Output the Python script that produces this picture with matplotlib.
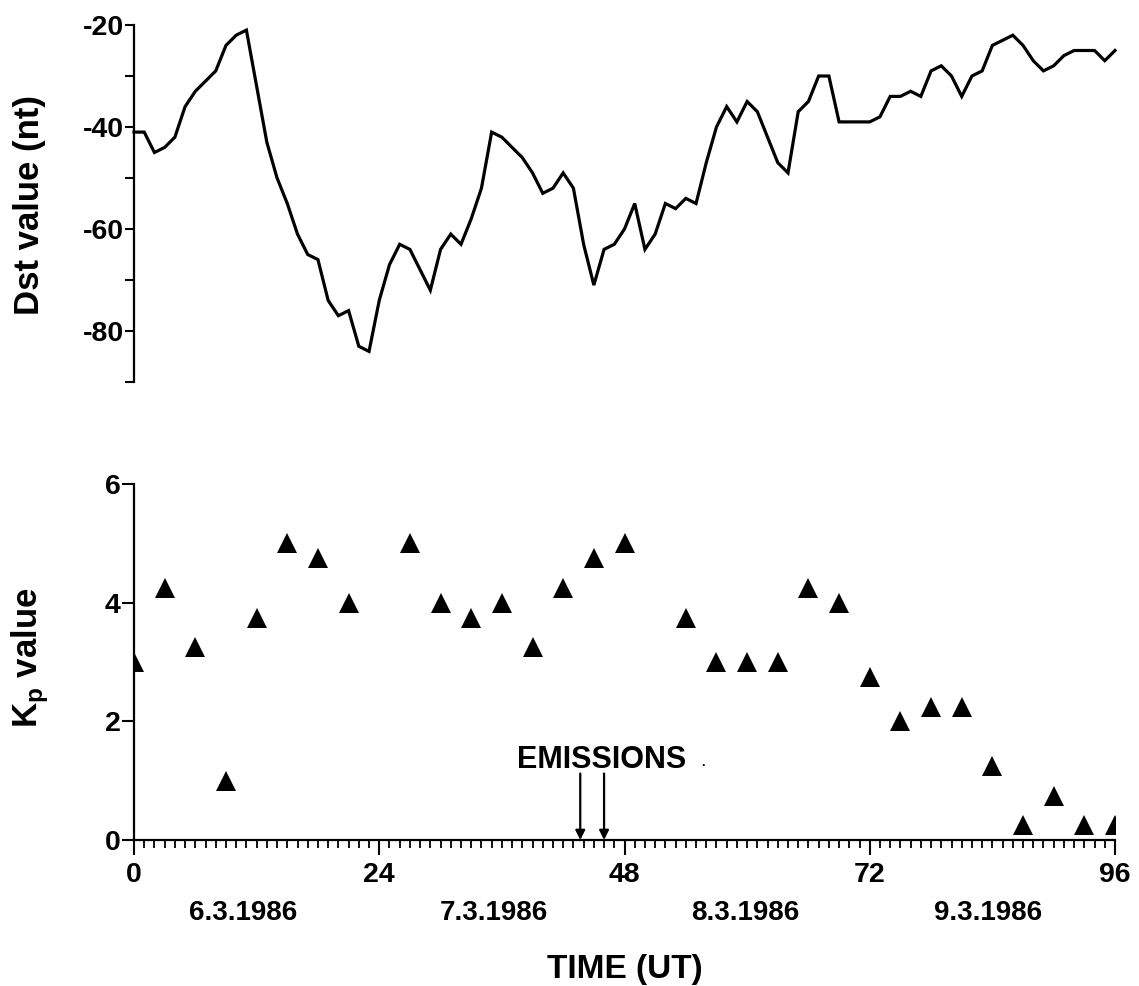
import matplotlib
matplotlib.use("Agg")
import matplotlib.pyplot as plt
from matplotlib.ticker import FixedLocator, MultipleLocator
from matplotlib.font_manager import FontProperties

plt.rcParams['font.family'] = ['Liberation Sans', 'DejaVu Sans']
plt.rcParams['font.weight'] = 'bold'
plt.rcParams['axes.unicode_minus'] = False

# ---------------- data ----------------
hours = list(range(0, 97))
dst = [-41, -41, -45, -44, -42, -36, -33, -31, -29, -24,
       -22, -21, -32, -43, -50, -55, -61, -65, -66, -74,
       -77, -76, -83, -84, -74, -67, -63, -64, -68, -72,
       -64, -61, -63, -58, -52, -41, -42, -44, -46, -49,
       -53, -52, -49, -52, -63, -71, -64, -63, -60, -55,
       -64, -61, -55, -56, -54, -55, -47, -40, -36, -39,
       -35, -37, -42, -47, -49, -37, -35, -30, -30, -39,
       -39, -39, -39, -38, -34, -34, -33, -34, -29, -28,
       -30, -34, -30, -29, -24, -23, -22, -24, -27, -29,
       -28, -26, -25, -25, -25, -27, -25]

kp_hours = [0, 3, 6, 9, 12, 15, 18, 21, 27, 30, 33, 36, 39, 42, 45, 48,
            54, 57, 60, 63, 66, 69, 72, 75, 78, 81, 84, 87, 90, 93, 96]
kp = [3, 4.25, 3.25, 1, 3.75, 5, 4.75, 4, 5, 4, 3.75, 4, 3.25, 4.25, 4.75, 5,
      3.75, 3, 3, 3, 4.25, 4, 2.75, 2, 2.25, 2.25, 1.25, 0.25, 0.75, 0.25, 0.25]

emission_hours = [43.67, 46.0]
x_ticks = [0, 24, 48, 72, 96]
dst_ticks = [-20, -40, -60, -80]
dst_minor = [-30, -50, -70, -90]
kp_ticks = [0, 2, 4, 6]
date_labels = ['6.3.1986', '7.3.1986', '8.3.1986', '9.3.1986']
date_pos = [10.7, 35.2, 59.8, 83.6]

# ---------------- figure ----------------
W, H = 1139, 986
fig = plt.figure(figsize=(W / 100, H / 100), dpi=100)
ax1 = fig.add_axes([134 / W, 1 - 382 / H, 981 / W, 357 / H])
ax2 = fig.add_axes([134 / W, 1 - 840 / H, 981 / W, 356 / H])

tick_fp = FontProperties(family='Liberation Sans', weight='bold', size=20.5)

# top panel: Dst
ax1.plot(hours, dst, color='black', lw=2.3, solid_joinstyle='miter', clip_on=False)
ax1.set_xlim(0, 96)
ax1.set_ylim(-90, -20)
for s in ['top', 'right', 'bottom']:
    ax1.spines[s].set_visible(False)
ax1.spines['left'].set_linewidth(1.6)
ax1.set_xticks([])
ax1.yaxis.set_major_locator(FixedLocator(dst_ticks))
ax1.yaxis.set_minor_locator(FixedLocator(dst_minor))
ax1.tick_params(axis='y', which='both', direction='out', length=6.5, width=1.5, pad=1)
for lab in ax1.get_yticklabels():
    lab.set_fontproperties(tick_fp)

# bottom panel: Kp
ax2.plot(kp_hours, kp, linestyle='none', marker='^', ms=14, color='black',
         markeredgewidth=0, clip_on=True)
ax2.set_xlim(0, 96)
ax2.set_ylim(0, 6)
for s in ['top', 'right']:
    ax2.spines[s].set_visible(False)
ax2.spines['left'].set_linewidth(1.6)
ax2.spines['bottom'].set_linewidth(1.6)
ax2.xaxis.set_major_locator(FixedLocator(x_ticks))
ax2.xaxis.set_minor_locator(MultipleLocator(1))
ax2.yaxis.set_major_locator(FixedLocator(kp_ticks))
ax2.tick_params(axis='x', which='major', direction='out', length=10.8, width=1.5, pad=5)
ax2.tick_params(axis='x', which='minor', direction='out', length=5.8, width=1.3)
ax2.tick_params(axis='y', which='major', direction='out', length=8.5, width=1.5, pad=1)
for lab in ax2.get_xticklabels() + ax2.get_yticklabels():
    lab.set_fontproperties(tick_fp)

# emissions arrows and label
for t in emission_hours:
    ax2.annotate('', xy=(t, 0.0), xytext=(t, 1.12),
                 arrowprops=dict(arrowstyle='-|>', lw=1.6, color='black',
                                 mutation_scale=14, shrinkA=0, shrinkB=0),
                 annotation_clip=False)
ax2.text(45.8, 1.22, 'EMISSIONS', ha='center', va='baseline',
         fontsize=22, fontweight='bold')
ax2.text(55.7, 1.25, '.', ha='center', va='baseline', fontsize=9, fontweight='bold')

# date labels and axis title
xt = ax2.get_xaxis_transform()
for pos, lab in zip(date_pos, date_labels):
    ax2.text(pos, -0.205, lab, transform=xt, ha='center', va='center',
             fontsize=20, fontweight='bold')
ax2.text(48, -0.365, 'TIME (UT)', transform=xt, ha='center', va='center',
         fontsize=24, fontweight='bold')

# y labels
fig.text(30 / W, 1 - 205 / H, 'Dst value (nt)', rotation=90, ha='center', va='center',
         fontsize=25, fontweight='bold')
fig.text(30 / W, 1 - 658 / H, r'K$_\mathregular{p}$ value', rotation=90, ha='center',
         va='center', fontsize=25, fontweight='bold')

fig.savefig('out.png', dpi=100)
